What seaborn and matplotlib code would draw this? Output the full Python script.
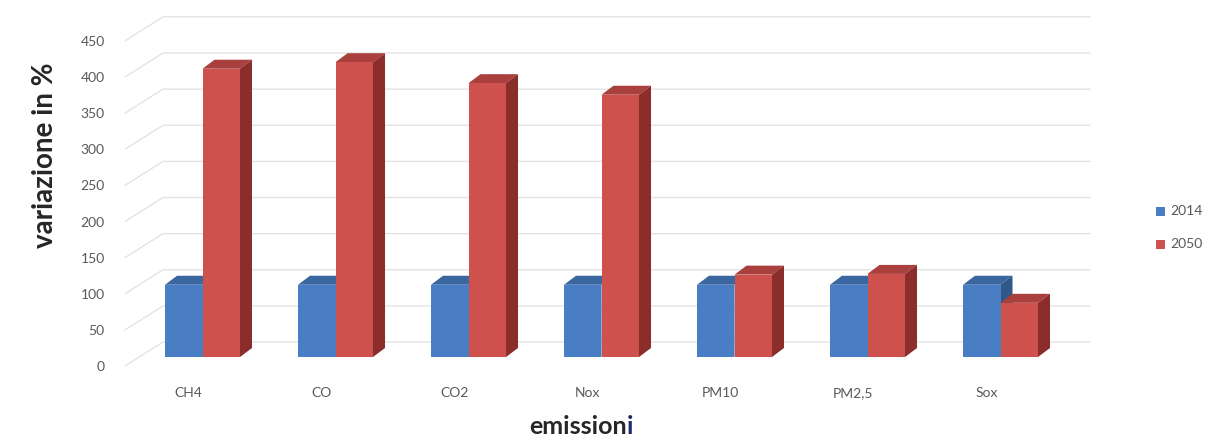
import numpy as np
import pandas as pd
import matplotlib
matplotlib.use("Agg")
import matplotlib.pyplot as plt
import matplotlib.transforms as mtransforms
from matplotlib.patches import Polygon
import seaborn as sns

# --- data ---
categories = ["CH4", "CO", "CO2", "Nox", "PM10", "PM2,5", "Sox"]
years = ["2014", "2050"]
values_2014 = [100, 100, 100, 100, 100, 100, 100]
values_2050 = [399, 408, 379, 363, 114, 115, 75]
y_ticks = [0, 50, 100, 150, 200, 250, 300, 350, 400, 450]

front_colors = {"2014": "#4a7ec4", "2050": "#cf514e"}
top_colors = {"2014": "#3a679f", "2050": "#a9403d"}
side_colors = {"2014": "#2f5788", "2050": "#8a2d2b"}

df = pd.DataFrame({
    "emissioni": categories * 2,
    "anno": [years[0]] * len(categories) + [years[1]] * len(categories),
    "valore": values_2014 + values_2050,
})

sns.set_theme(style="white")
plt.rcParams["font.family"] = ["Lato", "DejaVu Sans"]

fig = plt.figure(figsize=(12.14, 4.41), dpi=100)
# pixel geometry of the reference: 133 px per category, 0.7225 px per unit
px_x, px_y = 133.0, 0.7225
ax = fig.add_axes([120 / 1214, (441 - 372) / 441, 975 / 1214, 367 / 441])

sns.barplot(data=df, x="emissioni", y="valore", hue="anno", order=categories,
            hue_order=years, palette=front_colors, width=0.564, gap=0,
            saturation=1, linewidth=0, legend=False, ax=ax)

ax.set_xlim((120 - 202.5) / px_x, (1095 - 202.5) / px_x)
ax.set_ylim(-15 / px_y, 352 / px_y)

# 3D depth for each bar: top face and right side face
ddx, ddy = 12 / px_x, 9 / px_y
for hue_i, yr in enumerate(years):
    cont = ax.containers[hue_i]
    for p in cont.patches:
        x0, w, h = p.get_x(), p.get_width(), p.get_height()
        x1 = x0 + w
        z = 2 + hue_i
        p.set_zorder(z + 0.5)
        top = Polygon([(x0, h), (x1, h), (x1 + ddx, h + ddy), (x0 + ddx, h + ddy)],
                      closed=True, facecolor=top_colors[yr], edgecolor="none", zorder=z)
        side = Polygon([(x1, 0), (x1, h), (x1 + ddx, h + ddy), (x1 + ddx, ddy)],
                       closed=True, facecolor=side_colors[yr], edgecolor="none", zorder=z)
        ax.add_patch(top)
        ax.add_patch(side)

# back-wall gridlines with slanted floor/side edge
xf, xb, xr = (125 - 202.5) / px_x, (163 - 202.5) / px_x, (1090 - 202.5) / px_x
front_off, back_off = -9 / px_y, 15 / px_y
for v in y_ticks:
    ax.plot([xf, xb, xr], [v + front_off, v + back_off, v + back_off],
            color="#e3e3e3", lw=1.0, zorder=0.5, clip_on=False)

for s in ax.spines.values():
    s.set_visible(False)
ax.grid(False)

ax.set_yticks(y_ticks)
ax.set_yticklabels([str(v) for v in y_ticks])
ax.tick_params(axis="y", length=0, pad=11, labelsize=10, labelcolor="#595959")
ax.tick_params(axis="x", length=0, pad=11, labelsize=10, labelcolor="#595959")
off_y = mtransforms.ScaledTranslation(0, -9 / 100, fig.dpi_scale_trans)
for lab in ax.get_yticklabels():
    lab.set_transform(lab.get_transform() + off_y)
off_x = mtransforms.ScaledTranslation(-14 / 100, 0, fig.dpi_scale_trans)
for lab in ax.get_xticklabels():
    lab.set_transform(lab.get_transform() + off_x)

ax.set_xlabel("")
ax.set_ylabel("")
fig.text(45 / 1214, 1 - 155 / 441, "variazione in %", rotation=90, ha="center",
         va="center", fontsize=20, fontweight="bold", color="#262626")
t = fig.text(578 / 1214, 1 - 426 / 441, "emission", ha="center", va="center",
             fontsize=18, fontweight="bold", color="#262626")
ax.annotate("i", xy=(1, 0), xycoords=t, ha="left", va="bottom",
            fontsize=18, fontweight="bold", color="#1f2a6b")

# legend
for i, yr in enumerate(years):
    yy = 1 - (211 + 33 * i) / 441
    fig.patches.append(plt.Rectangle((1156 / 1214, yy - 5 / 441), 9 / 1214, 9 / 441,
                                     transform=fig.transFigure, facecolor=front_colors[yr],
                                     edgecolor="none"))
    fig.text(1170 / 1214, yy, yr, ha="left", va="center", fontsize=10, color="#595959")

fig.savefig("out.png", dpi=100)
